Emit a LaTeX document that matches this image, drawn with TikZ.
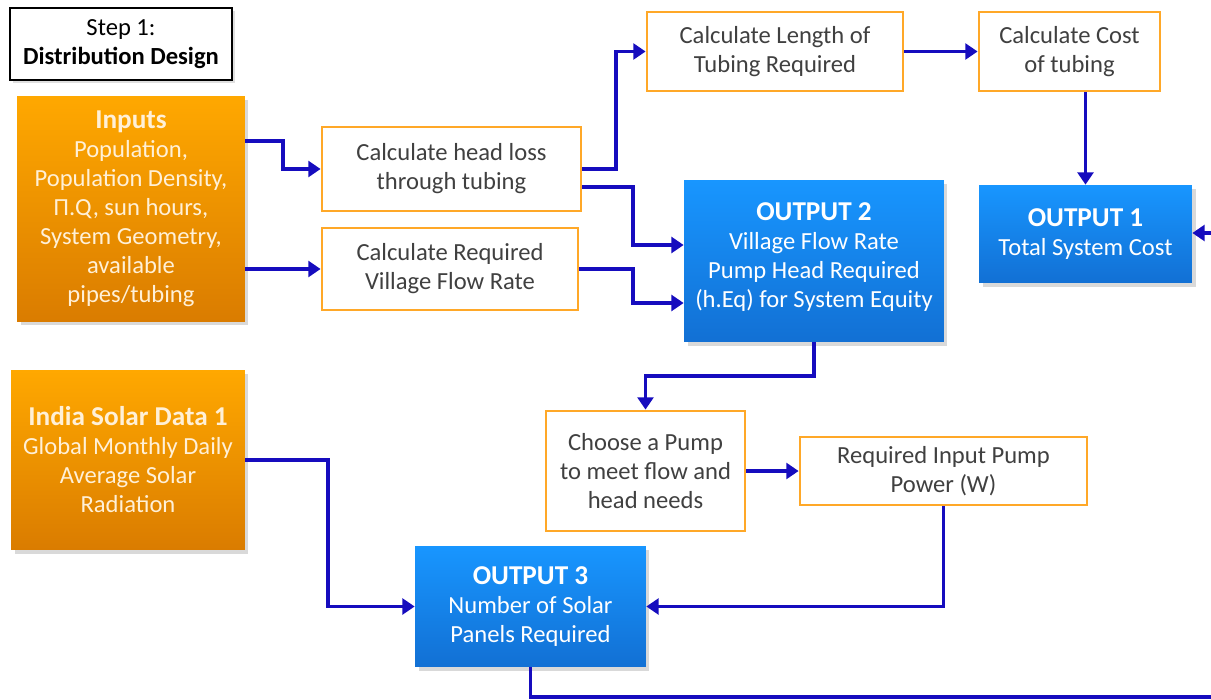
\documentclass[tikz,border=0pt]{standalone}
\usepackage{fontspec}
\setmainfont{Carlito}
\usepackage{tikz}
\usetikzlibrary{arrows.meta,shadows}

\definecolor{boxorange}{RGB}{255,168,40}
\definecolor{flowblue}{RGB}{22,12,190}
\definecolor{txtgray}{RGB}{64,64,64}
\newcommand{\hd}[1]{{\fontsize{15.5}{18}\selectfont\textbf{#1}}}

\begin{document}
\begin{tikzpicture}[x=0.02cm, y=-0.02cm,
  every node/.style={align=center, font=\fontsize{14}{16.5}\selectfont},
  stepbox/.style={draw=black, line width=1.4pt, fill=white, text=black,
    drop shadow={opacity=0.25, shadow xshift=1.5pt, shadow yshift=-1.5pt}},
  calc/.style={draw=boxorange, line width=1.6pt, fill=white, text=txtgray},
  source/.style={top color={rgb,255:red,255;green,168;blue,0},
    bottom color={rgb,255:red,218;green,124;blue,0}, text={rgb,255:red,255;green,240;blue,215},
    drop shadow={opacity=0.3, shadow xshift=2pt, shadow yshift=-2pt}},
  result/.style={top color={rgb,255:red,24;green,150;blue,255},
    bottom color={rgb,255:red,18;green,112;blue,212}, text=white,
    drop shadow={opacity=0.3, shadow xshift=2pt, shadow yshift=-2pt}},
  line/.style={draw=flowblue, line width=2.2pt},
  arr/.style={line, -{Triangle[length=7pt, width=9pt]}}]
  \useasboundingbox (0,0) rectangle (1211,700);
  \node [stepbox, minimum width=4.44cm, minimum height=1.44cm] (step) at (121, 44) {Step 1:\\\textbf{Distribution Design}};
  \node [source, minimum width=4.56cm, minimum height=4.52cm] (inputs) at (131, 209) {\hd{Inputs}\\Population,\\Population Density,\\Π.Q, sun hours,\\System Geometry,\\available\\pipes/tubing};
  \node [calc, minimum width=5.18cm, minimum height=1.68cm] (headloss) at (451.5, 169) {Calculate head loss\\through tubing};
  \node [calc, minimum width=5.12cm, minimum height=1.64cm] (flow) at (450, 269) {Calculate Required\\Village Flow Rate};
  \node [calc, minimum width=5.12cm, minimum height=1.58cm] (length) at (775, 51.5) {Calculate Length of\\Tubing Required};
  \node [calc, minimum width=3.62cm, minimum height=1.58cm] (cost) at (1069.5, 51.5) {Calculate Cost\\of tubing};
  \node [result, minimum width=5.20cm, minimum height=3.24cm, text depth=0.25cm] (out2) at (814, 261) {\hd{OUTPUT 2}\\Village Flow Rate\\Pump Head Required\\(h.Eq) for System Equity};
  \node [result, minimum width=4.26cm, minimum height=1.96cm] (out1) at (1085.5, 234) {\hd{OUTPUT 1}\\Total System Cost};
  \node [source, minimum width=4.68cm, minimum height=3.60cm] (solar) at (128, 460) {\hd{India Solar Data 1}\\Global Monthly Daily\\Average Solar\\Radiation};
  \node [calc, minimum width=3.98cm, minimum height=2.40cm] (pump) at (645.5, 471) {Choose a Pump\\to meet flow and\\head needs};
  \node [calc, minimum width=5.74cm, minimum height=1.36cm] (power) at (943.5, 471) {Required Input Pump\\Power (W)};
  \node [result, minimum width=4.62cm, minimum height=2.42cm] (out3) at (530.5, 606.5) {\hd{OUTPUT 3}\\Number of Solar\\Panels Required};
  \coordinate (rbot) at (1211, 697);
  \coordinate (rtop) at (1211, 233);
  % distribution
  \draw [arr] (inputs.east |- 0,141) -- ++(38,0) |- (headloss.west);
  \draw [arr] (inputs.east |- flow.west) -- (flow.west);
  \draw [arr] (headloss.east) -- ++(34,0) |- (length.west);
  \draw [arr] (headloss.east |- 0,187) -- ++(51,0) |- (out2.west |- 0,245);
  \draw [arr] (flow.east) -- ++(54,0) |- (out2.west |- 0,303);
  \draw [arr] (length) -- (cost);
  \draw [arr] (cost.south -| out1.north) -- (out1.north);
  % pump and solar
  \draw [arr] (out2.south) -- ++(0,34) -| (pump.north);
  \draw [arr] (pump) -- (power);
  \draw [arr] (power.south) |- (out3.east);
  \draw [arr] (solar.east) -- ++(83,0) |- (out3.west);
  \draw [line] (out3.south) |- (rbot);
  \draw [arr] (rtop) -- (out1.east |- rtop);
\end{tikzpicture}
\end{document}
